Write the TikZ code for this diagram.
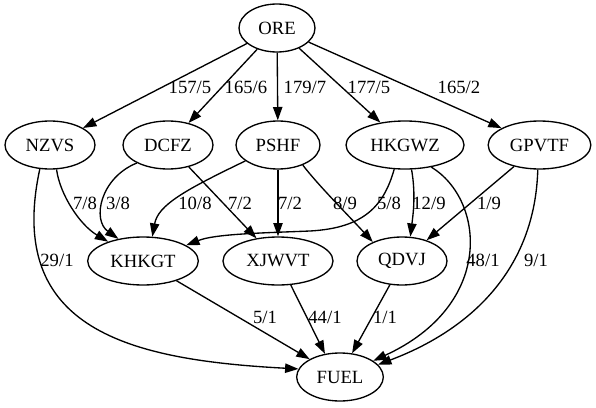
\documentclass[tikz,border=0pt]{standalone}
\usepackage{fontspec}
\setmainfont{Liberation Serif}
\usetikzlibrary{shapes.geometric,arrows.meta}
\begin{document}
\begin{tikzpicture}[x=0.75pt,y=-0.75pt,
  vtx/.style={draw,ellipse,line width=1pt,minimum height=36pt,inner sep=0pt,font=\fontsize{14}{16}\selectfont},
  lbl/.style={inner sep=0pt,font=\fontsize{14}{16}\selectfont},
  edge/.style={line width=1pt,-{Triangle[length=10pt,width=7pt]}}]
\useasboundingbox (0,0) rectangle (596,407);
% nodes
\node[vtx,minimum width=57pt]   (ore)   at (277,28)  {ORE};
\node[vtx,minimum width=67.5pt] (nzvs)  at (50,145)  {NZVS};
\node[vtx,minimum width=67.5pt] (dcfz)  at (168,145) {DCFZ};
\node[vtx,minimum width=63pt]   (pshf)  at (278,145) {PSHF};
\node[vtx,minimum width=88.5pt] (hkgwz) at (405,145) {HKGWZ};
\node[vtx,minimum width=77pt]   (gpvtf) at (539.5,145) {GPVTF};
\node[vtx,minimum width=83pt]   (khkgt) at (143,261) {KHKGT};
\node[vtx,minimum width=82.5pt] (xjwvt) at (278,261) {XJWVT};
\node[vtx,minimum width=67.5pt] (qdvj)  at (402,261) {QDVJ};
\node[vtx,minimum width=65pt]   (fuel)  at (340,377) {FUEL};
% edges
\draw[edge] (ore) -- (nzvs);
\draw[edge] (ore) -- (dcfz);
\draw[edge] (ore) -- (pshf);
\draw[edge] (ore) -- (hkgwz);
\draw[edge] (ore) -- (gpvtf);
\draw[edge] (nzvs.-75) .. controls (60,195) and (80,225) .. (khkgt.151);
\draw[edge] (nzvs.-113) .. controls (5,330) and (130,360) .. (fuel.169);
\draw[edge] (dcfz.-150) .. controls (100,178) and (92,220) .. (khkgt.138);
\draw[edge] (dcfz) -- (xjwvt);
\draw[edge] (pshf.-154) .. controls (185,190) and (158,205) .. (khkgt.69);
\draw[edge] (pshf) -- (xjwvt);
\draw[edge] (pshf.-39) .. controls (318,185) and (348,215) .. (qdvj.147);
\draw[edge] (hkgwz.-114) .. controls (384,205) and (365,228) .. (310,231) .. controls (260,233) and (215,234) .. (khkgt.20);
\draw[edge] (hkgwz.-75) .. controls (416,195) and (413,215) .. (qdvj.71);
\draw[edge] (hkgwz.-40) .. controls (485,200) and (495,305) .. (fuel.26);
\draw[edge] (gpvtf) -- (qdvj);
\draw[edge] (gpvtf.-94) .. controls (535,270) and (470,330) .. (fuel.18);
\draw[edge] (khkgt) -- (fuel);
\draw[edge] (xjwvt.-62) -- (fuel.123);
\draw[edge] (qdvj.-117) -- (fuel.63);
% labels
\node[lbl] (l1) at (190,87) {157/5};
\node[lbl] (l2) at (246,87) {165/6};
\node[lbl] (l3) at (305,87) {179/7};
\node[lbl] (l4) at (369,87) {177/5};
\node[lbl] (l5) at (459,87) {165/2};
\node[lbl] (l6) at (85,203) {7/8};
\node[lbl] (l7) at (118,203) {3/8};
\node[lbl] (l8) at (195,203) {10/8};
\node[lbl] (l9) at (240,203) {7/2};
\node[lbl] (l10) at (290,203) {7/2};
\node[lbl] (l11) at (345,203) {8/9};
\node[lbl] (l12) at (389,203) {5/8};
\node[lbl] (l13) at (429,203) {12/9};
\node[lbl] (l14) at (489,203) {1/9};
\node[lbl] (l15) at (57,260) {29/1};
\node[lbl] (l16) at (483,260) {48/1};
\node[lbl] (l17) at (536,260) {9/1};
\node[lbl] (l18) at (265,317) {5/1};
\node[lbl] (l19) at (325,317) {44/1};
\node[lbl] (l20) at (385,317) {1/1};
\end{tikzpicture}
\end{document}
